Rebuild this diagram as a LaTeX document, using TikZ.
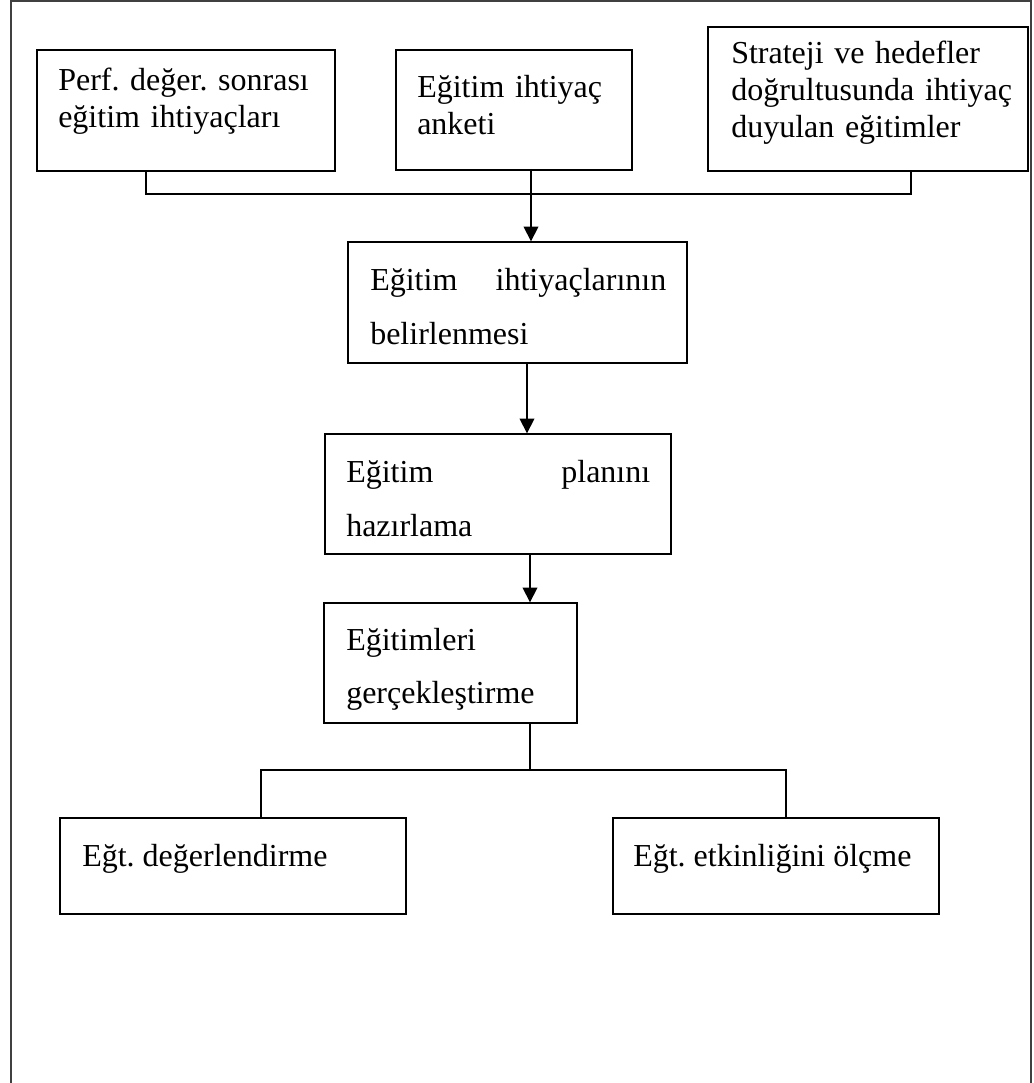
\documentclass[tikz,border=0pt]{standalone}
\usepackage{fontspec}
\setmainfont{Liberation Serif}
\usetikzlibrary{arrows.meta,fit}
\begin{document}
\frenchspacing
\begin{tikzpicture}[
  x=0.75pt, y=-0.75pt,
  box/.style={draw, line width=1pt, inner sep=0pt, rectangle},
  txt/.style={anchor=base west, inner sep=0pt, align=left},
  tight/.style={font=\fontsize{24}{27.75}\selectfont\frenchspacing},
  loose/.style={font=\fontsize{24}{41}\selectfont\frenchspacing},
  link/.style={line width=1pt},
  arr/.style={line width=1pt, -{Triangle[length=11pt,width=11pt]}},
  frame/.style={line width=1.6pt, black!75}
]
\useasboundingbox (0,0) rectangle (1034,1083);

% page frame, open at the bottom
\draw[frame] (11,1083) -- (11,1) -- (1031,1) -- (1031,1083);

% top row: sources of training needs
\node[box, fit={(37,50) (335,171)}] (b1) {};
\node[txt, tight, text width=260pt] (l1) at (58,90) {Perf. değer. sonrası\\eğitim ihtiyaçları};

\node[box, fit={(396,50) (632,170)}] (b2) {};
\node[txt, tight, text width=200pt] (l2) at (417,97) {Eğitim ihtiyaç\\anketi};

\node[box, fit={(708,27) (1028,171)}] (b3) {};
\node[txt, tight, text width=240pt] (l3) at (731,63) {Strateji ve hedefler\\doğrultusunda ihtiyaç\\duyulan eğitimler};

% main chain
\node[box, fit={(348,242) (687,363)}] (b4) {};
\node[txt, loose, text width=222pt] (l4) at (370,290) {\hbox to 222pt{Eğitim\hfill ihtiyaçlarının}\\belirlenmesi};

\node[box, fit={(325,434) (671,554)}] (b5) {};
\node[txt, loose, text width=228pt] (l5) at (346,482) {\hbox to 228pt{Eğitim\hfill planını}\\hazırlama};

\node[box, fit={(324,603) (577,723)}] (b6) {};
\node[txt, font=\fontsize{24}{40}\selectfont, text width=180pt] (l6) at (346,650) {Eğitimleri\\gerçekleştirme};

% bottom row
\node[box, fit={(60,818) (406,914)}] (b7) {};
\node[txt, tight] (l7) at (82,866) {Eğt. değerlendirme};

\node[box, fit={(613,818) (939,914)}] (b8) {};
\node[txt, tight] (l8) at (633,866) {Eğt. etkinliğini ölçme};

% connector points
\coordinate (t1) at (146,194);
\coordinate (t3) at (911,194);
\coordinate (a2) at (531,194);
\coordinate (a4) at (527,400);
\coordinate (a5) at (530,580);
\coordinate (m6) at (530,770);
\coordinate (s7) at (261,770);
\coordinate (s8) at (786,770);

% top collector bar and arrow
\draw[link] (b1.south -| t1) -- (t1) -- (t3) -- (b3.south -| t3);
\draw[arr] (b2.south -| a2) -- (b4.north -| a2);

% chain arrows
\draw[arr] (b4.south -| a4) -- (b5.north -| a4);
\draw[arr] (b5.south -| a5) -- (b6.north -| a5);

% split to the two evaluation boxes
\draw[link] (b6.south -| m6) -- (m6);
\draw[link] (b7.north -| s7) -- (s7) -- (s8) -- (b8.north -| s8);
\end{tikzpicture}
\end{document}
